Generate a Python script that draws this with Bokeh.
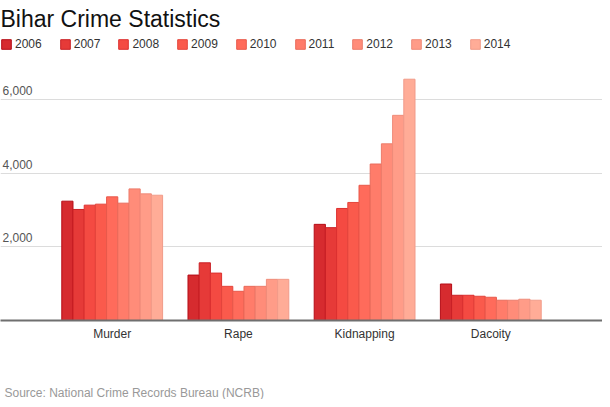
from bokeh.plotting import figure
from bokeh.models import ColumnDataSource, FactorRange, Range1d, FixedTicker, Label, Legend, LegendItem, Title
from bokeh.transform import dodge
from bokeh.embed import file_html
from bokeh.resources import INLINE

# ---- data ----
categories = ["Murder", "Rape", "Kidnapping", "Dacoity"]
years = ["2006", "2007", "2008", "2009", "2010", "2011", "2012", "2013", "2014"]
murder = [3244, 3019, 3136, 3163, 3362, 3190, 3578, 3443, 3406]
rape = [1235, 1568, 1289, 929, 794, 929, 929, 1119, 1119]
kidnapping = [2614, 2524, 3046, 3209, 3676, 4254, 4803, 5578, 6560]
dacoity = [992, 686, 686, 659, 632, 551, 551, 578, 551]
yticks = [2000, 4000, 6000]
ytick_labels = ["2,000", "4,000", "6,000"]
title_text = "Bihar Crime Statistics"
source_text = "Source: National Crime Records Bureau (NCRB)"

# ---- styles ----
fill_colors = ["#d62b2f", "#e63a38", "#f44a42", "#fa5a4c", "#ff6b5b",
               "#ff7c6a", "#ff8c79", "#ff9c88", "#ffac97"]
line_colors = ["#b50d17", "#c92126", "#dc3030", "#e4453c", "#e8594b",
               "#e96b5b", "#ec7c6b", "#ef8c7a", "#f19b89"]
FONT = "Liberation Sans"

data = {"cat": categories}
for i, yr in enumerate(years):
    data[yr] = [murder[i], rape[i], kidnapping[i], dacoity[i]]
src = ColumnDataSource(data)

W, H = 602, 399
BOTTOM = 77
p = figure(width=W, height=H,
           x_range=FactorRange(factors=categories, range_padding=0.1925),
           y_range=Range1d(0, 8700),
           output_backend="svg", toolbar_location=None, title=None,
           y_axis_location=None,
           min_border_left=0, min_border_right=0, min_border_top=0,
           min_border_bottom=BOTTOM)
p.outline_line_color = None
p.background_fill_color = "white"
p.border_fill_color = "white"

bar_w = 11.2 / 126.2
n = len(years)
items = []
for i, yr in enumerate(years):
    r = p.vbar(x=dodge("cat", (i - (n - 1) / 2) * bar_w, range=p.x_range),
               top=yr, width=bar_w, source=src,
               fill_color=fill_colors[i], line_color=line_colors[i], line_width=1)
    items.append(LegendItem(label=yr, renderers=[r]))

legend = Legend(items=items, orientation="horizontal", location=(0, 269),
                glyph_width=12, glyph_height=12, label_standoff=3, spacing=17,
                padding=0, margin=0, label_height=12, label_width=20,
                label_text_font=FONT, label_text_font_size="12px",
                label_text_color="#333333", border_line_color=None,
                background_fill_alpha=0)
p.add_layout(legend, "center")

# grid
p.xgrid.visible = False
p.ygrid.ticker = FixedTicker(ticks=yticks)
p.ygrid.grid_line_color = "#dcdcdc"
p.ygrid.grid_line_width = 1

# x axis
ax = p.xaxis[0]
ax.axis_line_color = "#6f6f6f"
ax.axis_line_width = 2
ax.major_tick_line_color = None
ax.minor_tick_line_color = None
ax.major_tick_out = 0
ax.major_tick_in = 0
ax.major_label_standoff = 6
ax.major_label_text_font = FONT
ax.major_label_text_font_size = "12px"
ax.major_label_text_color = "#333333"

# y tick labels above grid lines
for t, lab in zip(yticks, ytick_labels):
    p.add_layout(Label(x=2, y=t, x_units="screen", y_units="data", text=lab,
                       y_offset=9, text_font=FONT, text_font_size="12px",
                       text_color="#555555", text_baseline="alphabetic"))

frame_h = H - BOTTOM
p.add_layout(Label(x=0, y=frame_h - 20, x_units="screen", y_units="screen",
                   text=title_text, text_font=FONT, text_font_size="23px",
                   text_color="#111111", text_baseline="alphabetic"))

# spacer + source note below the axis
spacer = Title(text=" ", align="left", standoff=24, text_font=FONT,
               text_font_size="12px", text_color="white")
p.add_layout(spacer, "below")
src_title = Title(text=source_text, align="left", offset=4, standoff=0,
                  text_font=FONT, text_font_size="12px", text_font_style="normal",
                  text_color="#999999")
p.add_layout(src_title, "below")

open("out.html", "w").write(file_html(p, INLINE))
